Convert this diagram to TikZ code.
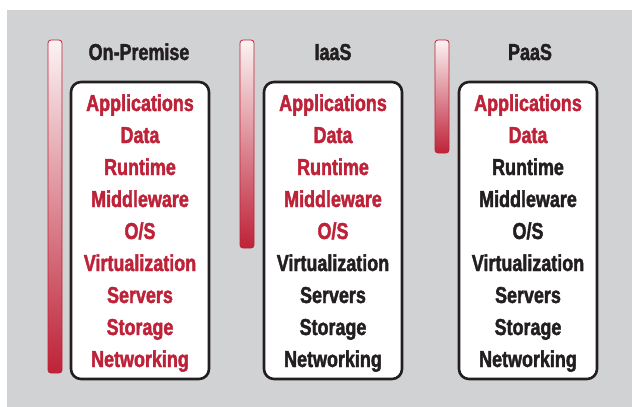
\documentclass[tikz,border=0pt]{standalone}
\usepackage{fontspec}
\setmainfont[FakeStretch=0.78, BoldFeatures={FakeBold=1.8}]{Liberation Sans}
\definecolor{panel}{HTML}{D1D2D4}
\definecolor{stackred}{HTML}{BE2238}
\definecolor{ink}{HTML}{231F20}
\definecolor{barpale}{HTML}{FBF3F3}
\tikzset{
  layer/.style={font=\fontsize{23}{24}\selectfont\bfseries, inner sep=0pt, anchor=base},
  managed/.style={layer, text=stackred},
  vendor/.style={layer, text=ink},
  heading/.style={layer, text=ink},
  stackbox/.style={draw=ink, line width=2.6pt, fill=white, rounded corners=10pt},
  levelbar/.style={draw=stackred, line width=0.8pt, rounded corners=3pt,
                   top color=barpale, bottom color=stackred}
}
\begin{document}
\begin{tikzpicture}[x=1pt, y=-1pt]
  \useasboundingbox (0,0) rectangle (632,407);
  \fill[panel] (7,10) rectangle (632,407);

  % gradient bars showing how much of the stack is managed in-house
  \draw[levelbar] (48,40) rectangle (62,373);
  \draw[levelbar] (240,40) rectangle (254,248);
  \draw[levelbar] (435,40) rectangle (449,153);

  % stack boxes
  \draw[stackbox] (71,82) rectangle (209,379);
  \draw[stackbox] (264,82) rectangle (402,379);
  \draw[stackbox] (459,82) rectangle (597,379);

  % headings (base line about 8pt below the text centre)
  \node[heading] (h1) at (139,60) {On-Premise};
  \node[heading] (h2) at (333,60) {IaaS};
  \node[heading] (h3) at (530,60) {PaaS};

  % On-Premise stack
  \node[managed] (a1) at (140,111) {Applications};
  \node[managed] (a2) at (140,143) {Data};
  \node[managed] (a3) at (140,175) {Runtime};
  \node[managed] (a4) at (140,207) {Middleware};
  \node[managed] (a5) at (140,239) {O/S};
  \node[managed] (a6) at (140,271) {Virtualization};
  \node[managed] (a7) at (140,303) {Servers};
  \node[managed] (a8) at (140,335) {Storage};
  \node[managed] (a9) at (140,367) {Networking};

  % IaaS stack
  \node[managed] (b1) at (333,111) {Applications};
  \node[managed] (b2) at (333,143) {Data};
  \node[managed] (b3) at (333,175) {Runtime};
  \node[managed] (b4) at (333,207) {Middleware};
  \node[managed] (b5) at (333,239) {O/S};
  \node[vendor] (b6) at (333,271) {Virtualization};
  \node[vendor] (b7) at (333,303) {Servers};
  \node[vendor] (b8) at (333,335) {Storage};
  \node[vendor] (b9) at (333,367) {Networking};

  % PaaS stack
  \node[managed] (c1) at (528,111) {Applications};
  \node[managed] (c2) at (528,143) {Data};
  \node[vendor] (c3) at (528,175) {Runtime};
  \node[vendor] (c4) at (528,207) {Middleware};
  \node[vendor] (c5) at (528,239) {O/S};
  \node[vendor] (c6) at (528,271) {Virtualization};
  \node[vendor] (c7) at (528,303) {Servers};
  \node[vendor] (c8) at (528,335) {Storage};
  \node[vendor] (c9) at (528,367) {Networking};
\end{tikzpicture}
\end{document}
